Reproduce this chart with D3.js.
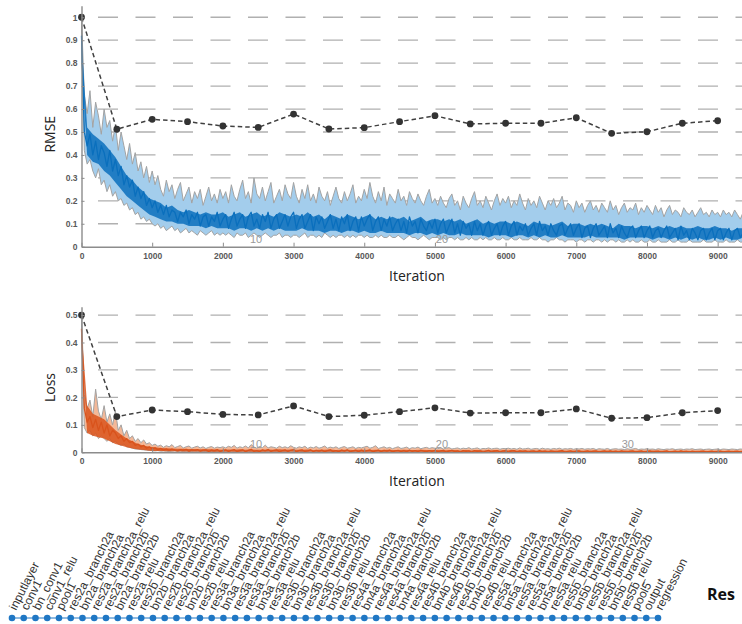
<!DOCTYPE html>
<html>
<head>
<meta charset="utf-8">
<script src="https://cdn.jsdelivr.net/npm/d3@7/dist/d3.min.js"></script>
<style>
body { margin:0; background:#fff; }
</style>
</head>
<body>
<div id="wrapper"></div>
<script>
// training traces.
// raw band (min / max of the trace) and the smoothed line: one value every 40 iterations
// dark core of the smoothed line: one value every 80 iterations
var rawStep = 40, coreStep = 80;

var rmseHi = [
	1.00, 0.66, 0.58, 0.68, 0.52, 0.63, 0.57, 0.49, 0.60, 0.52, 0.55, 0.46, 0.53, 0.42, 0.50, 0.44, 0.38, 0.45, 0.36, 0.41, 0.33, 0.37, 0.30, 0.35, 0.28, 0.33,
	0.27, 0.31, 0.25, 0.22, 0.29, 0.24, 0.27, 0.21, 0.25, 0.28, 0.20, 0.23, 0.26, 0.19, 0.24, 0.21, 0.25, 0.18, 0.22, 0.26, 0.20, 0.23, 0.19, 0.25, 0.21,
	0.24, 0.19, 0.27, 0.22, 0.20, 0.25, 0.29, 0.21, 0.24, 0.19, 0.30, 0.23, 0.21, 0.26, 0.20, 0.24, 0.28, 0.19, 0.22, 0.25, 0.20, 0.27, 0.23, 0.21, 0.28,
	0.22, 0.19, 0.25, 0.21, 0.27, 0.20, 0.23, 0.19, 0.26, 0.22, 0.20, 0.24, 0.18, 0.22, 0.26, 0.21, 0.19, 0.24, 0.20, 0.23, 0.27, 0.19, 0.22, 0.20, 0.25,
	0.21, 0.28, 0.22, 0.19, 0.24, 0.20, 0.26, 0.18, 0.23, 0.21, 0.19, 0.25, 0.20, 0.22, 0.18, 0.24, 0.21, 0.19, 0.23, 0.20, 0.18, 0.22, 0.25, 0.19, 0.21,
	0.18, 0.22, 0.19, 0.17, 0.21, 0.23, 0.18, 0.20, 0.16, 0.22, 0.19, 0.17, 0.21, 0.24, 0.18, 0.20, 0.17, 0.22, 0.19, 0.16, 0.20, 0.23, 0.18, 0.21, 0.19,
	0.22, 0.17, 0.20, 0.18, 0.23, 0.19, 0.16, 0.21, 0.18, 0.20, 0.17, 0.22, 0.19, 0.16, 0.20, 0.18, 0.21, 0.17, 0.19, 0.22, 0.16, 0.19, 0.18, 0.15, 0.20,
	0.17, 0.19, 0.15, 0.18, 0.20, 0.16, 0.18, 0.15, 0.19, 0.17, 0.15, 0.20, 0.16, 0.18, 0.14, 0.17, 0.19, 0.15, 0.17, 0.16, 0.19, 0.14, 0.17, 0.15, 0.18,
	0.16, 0.14, 0.18, 0.15, 0.17, 0.13, 0.16, 0.18, 0.14, 0.16, 0.15, 0.13, 0.17, 0.15, 0.14, 0.16, 0.13, 0.15, 0.17, 0.14, 0.15, 0.13, 0.16, 0.14, 0.15,
	0.13, 0.16, 0.14, 0.15, 0.13, 0.16, 0.14, 0.12, 0.15, 0.14
];
var rmseLo = [
	0.95, 0.42, 0.36, 0.38, 0.33, 0.30, 0.34, 0.27, 0.29, 0.24, 0.27, 0.22, 0.24, 0.20, 0.21, 0.18, 0.19, 0.16, 0.17, 0.14, 0.15, 0.12, 0.13, 0.11, 0.12, 0.10,
	0.09, 0.10, 0.08, 0.09, 0.07, 0.08, 0.09, 0.07, 0.08, 0.06, 0.07, 0.08, 0.06, 0.07, 0.06, 0.05, 0.07, 0.06, 0.05, 0.06, 0.07, 0.05, 0.06, 0.05, 0.06,
	0.05, 0.06, 0.05, 0.04, 0.06, 0.05, 0.05, 0.06, 0.04, 0.05, 0.06, 0.05, 0.04, 0.05, 0.06, 0.05, 0.04, 0.05, 0.05, 0.06, 0.04, 0.05, 0.05, 0.04, 0.05,
	0.05, 0.04, 0.05, 0.06, 0.04, 0.05, 0.05, 0.04, 0.05, 0.04, 0.06, 0.05, 0.04, 0.05, 0.04, 0.05, 0.05, 0.04, 0.05, 0.04, 0.05, 0.04, 0.05, 0.05, 0.04,
	0.05, 0.04, 0.04, 0.05, 0.04, 0.05, 0.04, 0.04, 0.05, 0.04, 0.04, 0.05, 0.04, 0.03, 0.04, 0.05, 0.04, 0.04, 0.03, 0.04, 0.05, 0.04, 0.03, 0.04, 0.04,
	0.04, 0.03, 0.04, 0.03, 0.04, 0.04, 0.03, 0.04, 0.03, 0.03, 0.04, 0.03, 0.04, 0.03, 0.03, 0.04, 0.03, 0.04, 0.03, 0.03, 0.04, 0.03, 0.03, 0.04, 0.03,
	0.03, 0.04, 0.03, 0.03, 0.04, 0.03, 0.03, 0.03, 0.04, 0.03, 0.03, 0.04, 0.03, 0.03, 0.02, 0.03, 0.03, 0.04, 0.03, 0.03, 0.02, 0.03, 0.03, 0.03, 0.02,
	0.03, 0.03, 0.02, 0.03, 0.03, 0.02, 0.03, 0.03, 0.02, 0.03, 0.02, 0.03, 0.03, 0.02, 0.03, 0.02, 0.02, 0.03, 0.02, 0.03, 0.02, 0.02, 0.03, 0.02, 0.02,
	0.03, 0.02, 0.02, 0.03, 0.02, 0.02, 0.02, 0.03, 0.02, 0.02, 0.03, 0.02, 0.02, 0.02, 0.03, 0.02, 0.02, 0.02, 0.02, 0.03, 0.02, 0.02, 0.02, 0.03, 0.02,
	0.02, 0.02, 0.03, 0.02, 0.02, 0.02, 0.03, 0.02, 0.02, 0.02
];
var rmseSmooth = [
	0.92, 0.50, 0.44, 0.49, 0.40, 0.46, 0.38, 0.44, 0.41, 0.35, 0.42, 0.33, 0.38, 0.31, 0.35, 0.27, 0.31, 0.26, 0.29, 0.22, 0.26, 0.21, 0.24, 0.18, 0.21, 0.17,
	0.20, 0.15, 0.18, 0.14, 0.18, 0.13, 0.16, 0.15, 0.11, 0.15, 0.13, 0.16, 0.10, 0.14, 0.12, 0.15, 0.09, 0.13, 0.14, 0.09, 0.13, 0.11, 0.15, 0.09, 0.12,
	0.14, 0.08, 0.12, 0.15, 0.09, 0.12, 0.14, 0.08, 0.13, 0.15, 0.09, 0.12, 0.08, 0.14, 0.11, 0.15, 0.08, 0.12, 0.14, 0.08, 0.11, 0.14, 0.09, 0.13, 0.15,
	0.08, 0.12, 0.14, 0.08, 0.11, 0.14, 0.07, 0.13, 0.10, 0.13, 0.08, 0.11, 0.14, 0.08, 0.12, 0.07, 0.13, 0.10, 0.14, 0.07, 0.11, 0.13, 0.07, 0.13, 0.09,
	0.12, 0.14, 0.07, 0.11, 0.13, 0.07, 0.12, 0.09, 0.13, 0.07, 0.10, 0.12, 0.07, 0.11, 0.06, 0.13, 0.09, 0.11, 0.06, 0.12, 0.09, 0.07, 0.11, 0.08, 0.12,
	0.06, 0.10, 0.12, 0.06, 0.09, 0.12, 0.06, 0.10, 0.05, 0.11, 0.08, 0.10, 0.05, 0.11, 0.07, 0.10, 0.05, 0.09, 0.11, 0.05, 0.08, 0.10, 0.05, 0.09, 0.11,
	0.05, 0.09, 0.11, 0.05, 0.09, 0.07, 0.10, 0.05, 0.08, 0.10, 0.05, 0.11, 0.07, 0.09, 0.05, 0.10, 0.07, 0.05, 0.09, 0.10, 0.05, 0.08, 0.10, 0.05, 0.08,
	0.10, 0.04, 0.08, 0.09, 0.04, 0.08, 0.10, 0.05, 0.07, 0.09, 0.04, 0.10, 0.06, 0.08, 0.04, 0.09, 0.06, 0.04, 0.08, 0.09, 0.04, 0.07, 0.09, 0.04, 0.07,
	0.09, 0.04, 0.07, 0.08, 0.04, 0.07, 0.09, 0.04, 0.06, 0.08, 0.03, 0.09, 0.05, 0.07, 0.03, 0.08, 0.06, 0.03, 0.07, 0.08, 0.03, 0.06, 0.08, 0.03, 0.07,
	0.08, 0.03, 0.06, 0.08, 0.03, 0.07, 0.08, 0.04, 0.06, 0.07
];
var rmseCoreHi = [
	0.90, 0.52, 0.49, 0.47, 0.45, 0.42, 0.39, 0.35, 0.31, 0.29, 0.26, 0.24, 0.21,
	0.20, 0.19, 0.17, 0.18, 0.16, 0.15, 0.16, 0.15, 0.14, 0.15, 0.14, 0.14,
	0.15, 0.13, 0.14, 0.15, 0.13, 0.14, 0.15, 0.13, 0.14, 0.13, 0.15, 0.14, 0.13,
	0.14, 0.13, 0.15, 0.13, 0.14, 0.12, 0.14, 0.13, 0.12, 0.14, 0.13, 0.12,
	0.13, 0.14, 0.12, 0.13, 0.12, 0.13, 0.12, 0.13, 0.11, 0.12, 0.13, 0.11, 0.12,
	0.12, 0.11, 0.12, 0.11, 0.12, 0.10, 0.11, 0.12, 0.10, 0.11, 0.10, 0.11,
	0.11, 0.10, 0.11, 0.10, 0.09, 0.11, 0.10, 0.10, 0.09, 0.10, 0.11, 0.09, 0.10,
	0.10, 0.09, 0.10, 0.09, 0.10, 0.09, 0.08, 0.10, 0.09, 0.09, 0.08, 0.09,
	0.09, 0.08, 0.09, 0.08, 0.09, 0.08, 0.09, 0.08, 0.08, 0.09, 0.08, 0.08, 0.09,
	0.08, 0.08, 0.07, 0.08, 0.08
];
var rmseCoreLo = [
	0.80, 0.40, 0.37, 0.36, 0.33, 0.31, 0.28, 0.25, 0.22, 0.20, 0.18, 0.16, 0.14,
	0.13, 0.12, 0.11, 0.11, 0.10, 0.10, 0.09, 0.09, 0.09, 0.08, 0.09, 0.08,
	0.08, 0.08, 0.07, 0.08, 0.08, 0.07, 0.08, 0.07, 0.08, 0.07, 0.08, 0.07, 0.07,
	0.07, 0.08, 0.07, 0.07, 0.07, 0.06, 0.07, 0.07, 0.06, 0.07, 0.07, 0.06,
	0.07, 0.06, 0.06, 0.07, 0.06, 0.06, 0.06, 0.06, 0.05, 0.06, 0.06, 0.05, 0.06,
	0.05, 0.06, 0.05, 0.05, 0.06, 0.05, 0.05, 0.05, 0.05, 0.04, 0.05, 0.05,
	0.05, 0.04, 0.05, 0.05, 0.04, 0.05, 0.04, 0.05, 0.04, 0.04, 0.05, 0.04, 0.04,
	0.04, 0.04, 0.05, 0.04, 0.04, 0.04, 0.04, 0.04, 0.03, 0.04, 0.04, 0.04,
	0.04, 0.03, 0.04, 0.04, 0.03, 0.04, 0.03, 0.04, 0.03, 0.04, 0.03, 0.03, 0.04,
	0.03, 0.04, 0.03, 0.03, 0.04
];

var lossHi = [
	0.50, 0.21, 0.16, 0.19, 0.13, 0.23, 0.15, 0.12, 0.17, 0.11, 0.14, 0.10, 0.15, 0.08, 0.10, 0.06, 0.08, 0.05, 0.06, 0.04, 0.05, 0.035, 0.045, 0.03, 0.035, 0.025,
	0.03, 0.022, 0.026, 0.018, 0.024, 0.02, 0.028, 0.017, 0.021, 0.025, 0.016, 0.02, 0.023, 0.015, 0.019, 0.022, 0.016, 0.02, 0.014, 0.018, 0.021, 0.015, 0.019, 0.017, 0.02,
	0.016, 0.022, 0.018, 0.025, 0.015, 0.02, 0.017, 0.023, 0.016, 0.028, 0.019, 0.015, 0.021, 0.017, 0.026, 0.016, 0.02, 0.018, 0.015, 0.022, 0.017, 0.02, 0.016, 0.024, 0.018,
	0.015, 0.02, 0.017, 0.022, 0.014, 0.019, 0.016, 0.021, 0.015, 0.018, 0.023, 0.015, 0.019, 0.016, 0.02, 0.014, 0.018, 0.021, 0.015, 0.017, 0.02, 0.014, 0.018, 0.016, 0.019,
	0.022, 0.015, 0.018, 0.024, 0.014, 0.017, 0.02, 0.015, 0.018, 0.013, 0.017, 0.02, 0.014, 0.016, 0.019, 0.013, 0.017, 0.015, 0.019, 0.013, 0.016, 0.018, 0.014, 0.017, 0.015,
	0.013, 0.016, 0.012, 0.015, 0.017, 0.012, 0.014, 0.016, 0.012, 0.015, 0.013, 0.017, 0.012, 0.014, 0.016, 0.011, 0.014, 0.013, 0.016, 0.012, 0.014, 0.015, 0.011, 0.014, 0.013,
	0.015, 0.012, 0.014, 0.011, 0.016, 0.012, 0.013, 0.015, 0.011, 0.013, 0.014, 0.011, 0.015, 0.012, 0.013, 0.011, 0.014, 0.012, 0.015, 0.011, 0.013, 0.012, 0.014, 0.011, 0.013,
	0.012, 0.014, 0.011, 0.013, 0.012, 0.014, 0.01, 0.013, 0.012, 0.011, 0.014, 0.01, 0.012, 0.013, 0.011, 0.012, 0.01, 0.013, 0.011, 0.012, 0.014, 0.01, 0.012, 0.011, 0.013,
	0.011, 0.012, 0.01, 0.013, 0.011, 0.01, 0.012, 0.011, 0.013, 0.01, 0.011, 0.012, 0.01, 0.012, 0.011, 0.013, 0.01, 0.011, 0.012, 0.01, 0.011, 0.012, 0.01, 0.011, 0.012,
	0.01, 0.012, 0.011, 0.01, 0.012, 0.011, 0.01, 0.012, 0.011, 0.01
];
var lossLo = [
	0.45, 0.09, 0.07, 0.08, 0.06, 0.07, 0.05, 0.06, 0.05, 0.04, 0.05, 0.035, 0.04, 0.03, 0.025, 0.03, 0.02, 0.018, 0.015, 0.012, 0.012, 0.01, 0.009, 0.008, 0.007, 0.006,
	0.005, 0.006, 0.004, 0.005, 0.004, 0.003, 0.004, 0.005, 0.003, 0.004, 0.003, 0.004, 0.003, 0.003, 0.004, 0.003, 0.002, 0.003, 0.003, 0.002, 0.003, 0.003, 0.002, 0.003, 0.002,
	0.002, 0.003, 0.002, 0.002, 0.003, 0.002, 0.002, 0.002, 0.003, 0.002, 0.002, 0.003, 0.002, 0.002, 0.002, 0.003, 0.002, 0.002, 0.002, 0.002, 0.003, 0.002, 0.002, 0.002, 0.002,
	0.002, 0.002, 0.003, 0.002, 0.002, 0.002, 0.002, 0.003, 0.002, 0.002, 0.002, 0.002, 0.002, 0.003, 0.002, 0.002, 0.002, 0.002, 0.002, 0.002, 0.003, 0.002, 0.002, 0.002, 0.002,
	0.002, 0.002, 0.001, 0.002, 0.002, 0.002, 0.001, 0.002, 0.002, 0.002, 0.002, 0.001, 0.002, 0.002, 0.002, 0.001, 0.002, 0.002, 0.002, 0.001, 0.002, 0.002, 0.001, 0.002, 0.002,
	0.001, 0.002, 0.001, 0.002, 0.001, 0.001, 0.002, 0.001, 0.002, 0.001, 0.001, 0.002, 0.001, 0.001, 0.002, 0.001, 0.001, 0.002, 0.001, 0.001, 0.002, 0.001, 0.001, 0.001, 0.002,
	0.001, 0.001, 0.002, 0.001, 0.001, 0.001, 0.001, 0.002, 0.001, 0.001, 0.001, 0.001, 0.001, 0.002, 0.001, 0.001, 0.001, 0.001, 0.001, 0.001, 0.002, 0.001, 0.001, 0.001, 0.001,
	0.001, 0.001, 0.001, 0.001, 0.001, 0.001, 0.001, 0.001, 0.001, 0.001, 0.001, 0.001, 0.001, 0.001, 0.001, 0.001, 0.001, 0.001, 0.001, 0.001, 0.001, 0.001, 0.001, 0.001, 0.001,
	0.001, 0.001, 0.001, 0.001, 0.001, 0.001, 0.001, 0.001, 0.001, 0.001, 0.001, 0.001, 0.001, 0.001, 0.001, 0.001, 0.001, 0.001, 0.001, 0.001, 0.001, 0.001, 0.001, 0.001, 0.001,
	0.001, 0.001, 0.001, 0.001, 0.001, 0.001, 0.001, 0.001, 0.001, 0.001
];
var lossSmooth = [
	0.45, 0.16, 0.11, 0.13, 0.09, 0.12, 0.08, 0.11, 0.07, 0.10, 0.06, 0.08, 0.07, 0.05, 0.06, 0.04, 0.05, 0.035, 0.04, 0.025, 0.03, 0.02, 0.025, 0.015, 0.02, 0.012,
	0.016, 0.009, 0.014, 0.008, 0.012, 0.007, 0.012, 0.008, 0.005, 0.01, 0.007, 0.011, 0.004, 0.009, 0.006, 0.01, 0.004, 0.008, 0.009, 0.003, 0.008, 0.005, 0.01, 0.003, 0.007,
	0.009, 0.003, 0.007, 0.01, 0.003, 0.006, 0.009, 0.002, 0.007, 0.011, 0.003, 0.006, 0.002, 0.009, 0.005, 0.01, 0.003, 0.007, 0.009, 0.002, 0.006, 0.009, 0.003, 0.007, 0.01,
	0.002, 0.007, 0.009, 0.003, 0.005, 0.009, 0.002, 0.007, 0.004, 0.008, 0.002, 0.006, 0.009, 0.003, 0.006, 0.002, 0.008, 0.004, 0.009, 0.002, 0.005, 0.008, 0.002, 0.008, 0.003,
	0.006, 0.009, 0.002, 0.005, 0.008, 0.002, 0.007, 0.004, 0.008, 0.002, 0.005, 0.007, 0.002, 0.006, 0.002, 0.008, 0.003, 0.006, 0.002, 0.007, 0.004, 0.002, 0.006, 0.003, 0.007,
	0.002, 0.005, 0.007, 0.001, 0.004, 0.007, 0.002, 0.005, 0.001, 0.006, 0.003, 0.005, 0.001, 0.006, 0.003, 0.005, 0.001, 0.004, 0.007, 0.001, 0.004, 0.006, 0.001, 0.005, 0.006,
	0.001, 0.004, 0.006, 0.001, 0.005, 0.003, 0.005, 0.001, 0.004, 0.005, 0.001, 0.006, 0.002, 0.004, 0.001, 0.005, 0.003, 0.001, 0.004, 0.006, 0.001, 0.003, 0.005, 0.001, 0.004,
	0.005, 0.001, 0.003, 0.005, 0.001, 0.004, 0.005, 0.001, 0.003, 0.005, 0.001, 0.005, 0.002, 0.004, 0.001, 0.005, 0.002, 0.001, 0.004, 0.005, 0.001, 0.003, 0.005, 0.001, 0.003,
	0.005, 0.001, 0.003, 0.004, 0.001, 0.003, 0.005, 0.001, 0.002, 0.004, 0.001, 0.005, 0.002, 0.003, 0.001, 0.004, 0.002, 0.001, 0.003, 0.004, 0.001, 0.003, 0.004, 0.001, 0.003,
	0.004, 0.001, 0.003, 0.004, 0.001, 0.003, 0.004, 0.001, 0.002, 0.004
];
var lossCoreHi = [
	0.45, 0.17, 0.14, 0.13, 0.12, 0.10, 0.08, 0.065, 0.05, 0.04, 0.03, 0.025, 0.02,
	0.018, 0.016, 0.015, 0.014, 0.013, 0.013, 0.012, 0.012, 0.011, 0.011, 0.011, 0.01,
	0.009, 0.01, 0.009, 0.011, 0.009, 0.01, 0.009, 0.009, 0.01, 0.009, 0.011, 0.009, 0.01,
	0.009, 0.009, 0.01, 0.008, 0.009, 0.009, 0.01, 0.008, 0.009, 0.009, 0.008, 0.009,
	0.009, 0.008, 0.009, 0.008, 0.009, 0.008, 0.008, 0.009, 0.008, 0.008, 0.009, 0.008, 0.008,
	0.008, 0.007, 0.008, 0.008, 0.007, 0.008, 0.007, 0.008, 0.007, 0.007, 0.008, 0.007,
	0.007, 0.008, 0.007, 0.007, 0.007, 0.006, 0.007, 0.007, 0.006, 0.007, 0.007, 0.006, 0.007,
	0.007, 0.006, 0.007, 0.006, 0.006, 0.007, 0.006, 0.006, 0.007, 0.006, 0.006, 0.006,
	0.006, 0.007, 0.006, 0.006, 0.005, 0.006, 0.006, 0.006, 0.005, 0.006, 0.006, 0.005, 0.006,
	0.006, 0.005, 0.006, 0.005, 0.006
];
var lossCoreLo = [
	0.40, 0.07, 0.06, 0.055, 0.05, 0.04, 0.03, 0.025, 0.018, 0.014, 0.01, 0.008, 0.006,
	0.005, 0.005, 0.004, 0.004, 0.004, 0.003, 0.003, 0.003, 0.003, 0.003, 0.002, 0.002,
	0.002, 0.003, 0.002, 0.002, 0.003, 0.002, 0.002, 0.002, 0.003, 0.002, 0.002, 0.002, 0.003,
	0.002, 0.002, 0.002, 0.003, 0.002, 0.002, 0.002, 0.002, 0.002, 0.003, 0.002, 0.002,
	0.002, 0.002, 0.002, 0.002, 0.002, 0.002, 0.002, 0.002, 0.002, 0.002, 0.002, 0.002, 0.002,
	0.002, 0.001, 0.002, 0.002, 0.001, 0.002, 0.002, 0.001, 0.002, 0.002, 0.001, 0.002,
	0.001, 0.002, 0.001, 0.001, 0.002, 0.001, 0.001, 0.002, 0.001, 0.001, 0.001, 0.002, 0.001,
	0.001, 0.001, 0.001, 0.001, 0.001, 0.001, 0.001, 0.001, 0.001, 0.001, 0.001, 0.001,
	0.001, 0.001, 0.001, 0.001, 0.001, 0.001, 0.001, 0.001, 0.001, 0.001, 0.001, 0.001, 0.001,
	0.001, 0.001, 0.001, 0.001, 0.001
];

// validation points
var valIter = [0, 500, 1000, 1500, 2000, 2500, 3000, 3500, 4000, 4500, 5000, 5500, 6000, 6500, 7000, 7500, 8000, 8500, 9000];
var rmseVal = [1.0, 0.512, 0.555, 0.545, 0.526, 0.52, 0.578, 0.513, 0.519, 0.545, 0.571, 0.535, 0.538, 0.538, 0.562, 0.494, 0.501, 0.538, 0.549];
var lossVal = [0.5, 0.13, 0.154, 0.148, 0.138, 0.136, 0.169, 0.13, 0.135, 0.148, 0.162, 0.143, 0.144, 0.144, 0.158, 0.124, 0.126, 0.144, 0.152];

// epoch markers
var epochLabels = ['10', '20', '30'];
var epochIter = [2470, 5100, 7730];

var xTicks = [0, 1000, 2000, 3000, 4000, 5000, 6000, 7000, 8000, 9000];
var rmseTicks = [0, 0.1, 0.2, 0.3, 0.4, 0.5, 0.6, 0.7, 0.8, 0.9, 1];
var lossTicks = [0, 0.1, 0.2, 0.3, 0.4, 0.5];

var layers = ['inputlayer', 'conv1', 'bn_conv1', 'conv1_relu', 'pool1',
	'res2a_branch2a', 'bn2a_branch2a', 'res2a_branch2a_relu', 'res2a_branch2b', 'bn2a_branch2b', 'res2a_relu',
	'res2b_branch2a', 'bn2b_branch2a', 'res2b_branch2a_relu', 'res2b_branch2b', 'bn2b_branch2b', 'res2b_relu',
	'res3a_branch2a', 'bn3a_branch2a', 'res3a_branch2a_relu', 'res3a_branch2b', 'bn3a_branch2b', 'res3a_relu',
	'res3b_branch2a', 'bn3b_branch2a', 'res3b_branch2a_relu', 'res3b_branch2b', 'bn3b_branch2b', 'res3b_relu',
	'res4a_branch2a', 'bn4a_branch2a', 'res4a_branch2a_relu', 'res4a_branch2b', 'bn4a_branch2b', 'res4a_relu',
	'res4b_branch2a', 'bn4b_branch2a', 'res4b_branch2a_relu', 'res4b_branch2b', 'bn4b_branch2b', 'res4b_relu',
	'res5a_branch2a', 'bn5a_branch2a', 'res5a_branch2a_relu', 'res5a_branch2b', 'bn5a_branch2b', 'res5a_relu',
	'res5b_branch2a', 'bn5b_branch2a', 'res5b_branch2a_relu', 'res5b_branch2b', 'bn5b_branch2b', 'res5b_relu',
	'pool5', 'output', 'regression'];

var svg = d3.select('#wrapper')
	.append('svg')
	.attr('width', 742)
	.attr('height', 624)
	.style('font-family', 'Liberation Sans, Arial, sans-serif');

var x = d3.scaleLinear().domain([0, 9500]).range([81.5, 753]);

function panel(p) {
	var y = d3.scaleLinear().domain([0, p.top]).range([p.y0, p.y1]);
	var g = svg.append('g');

	// dashed grid
	g.selectAll('line.grid')
		.data(p.ticks.filter(function(d){ return d > 0; }))
		.enter()
		.append('line')
		.attr('class', 'grid')
		.attr('x1', x(0)).attr('x2', 742)
		.attr('y1', function(d){ return y(d); })
		.attr('y2', function(d){ return y(d); })
		.style('stroke', '#b0b0b0')
		.style('stroke-width', 1.3)
		.style('stroke-dasharray', '20,17.5')
		.style('stroke-dashoffset', 21);

	// raw band
	var band = d3.area()
		.x(function(d, i){ return x(i * rawStep); })
		.y0(function(d, i){ return y(p.lo[i]); })
		.y1(function(d){ return y(d); });
	g.append('path').datum(p.hi)
		.attr('d', band)
		.style('fill', p.light)
		.style('stroke', '#a3a3a3')
		.style('stroke-width', 1)
		.style('stroke-linejoin', 'round');

	// smoothed core
	var core = d3.area()
		.x(function(d, i){ return x(i * coreStep); })
		.y0(function(d, i){ return y(p.coreLo[i]); })
		.y1(function(d){ return y(d); });
	g.append('path').datum(p.coreHi)
		.attr('d', core)
		.style('fill', p.dark)
		.style('fill-opacity', 0.85);
	var trace = d3.line()
		.x(function(d, i){ return x(i * rawStep); })
		.y(function(d){ return y(d); });
	g.append('path').datum(p.smooth)
		.attr('d', trace)
		.style('fill', 'none')
		.style('stroke', p.dark)
		.style('stroke-width', 1.3)
		.style('stroke-linejoin', 'round');

	// epoch numbers
	g.selectAll('text.epoch')
		.data(p.epochs)
		.enter()
		.append('text')
		.attr('x', function(d){ return x(epochIter[epochLabels.indexOf(d)]); })
		.attr('y', y(0) - 4)
		.attr('text-anchor', 'middle')
		.style('font-size', '11px')
		.style('fill', '#9a9a9a')
		.text(function(d){ return d; });

	// validation
	var valLine = d3.line()
		.x(function(d, i){ return x(valIter[i]); })
		.y(function(d){ return y(d); });
	g.append('path').datum(p.val)
		.attr('d', valLine)
		.style('fill', 'none')
		.style('stroke', '#404040')
		.style('stroke-width', 1.5)
		.style('stroke-dasharray', '4.5,3');
	g.selectAll('circle.val')
		.data(p.val)
		.enter()
		.append('circle')
		.attr('cx', function(d, i){ return x(valIter[i]); })
		.attr('cy', function(d){ return y(d); })
		.attr('r', 3.4)
		.style('fill', '#333');

	// axes
	var xa = g.append('g')
		.attr('transform', 'translate(0,' + p.y0 + ')')
		.call(d3.axisBottom(x).tickValues(xTicks).tickSizeInner(-4).tickSizeOuter(0).tickPadding(6).tickFormat(d3.format('d')));
	var ya = g.append('g')
		.attr('transform', 'translate(' + x(0) + ',0)')
		.call(d3.axisLeft(y).tickValues(p.ticks).tickSizeInner(-3).tickSizeOuter(0).tickPadding(4).tickFormat(function(d){ return String(d); }));
	[xa, ya].forEach(function(a){
		a.select('.domain').style('stroke', '#8c8c8c').style('stroke-width', 1.4);
		a.selectAll('.tick line').style('stroke', '#8c8c8c');
		a.selectAll('text')
			.style('font-family', 'Liberation Sans, Arial, sans-serif')
			.style('font-size', '8.5px')
			.style('font-weight', 'bold')
			.style('fill', '#595959');
	});

	g.append('text')
		.attr('x', 417).attr('y', p.y0 + 34)
		.attr('text-anchor', 'middle')
		.style('font-family', 'Open Sans, sans-serif')
		.style('font-size', '14px')
		.style('fill', '#222')
		.text('Iteration');
	g.append('text')
		.attr('transform', 'translate(55,' + ((p.y0 + p.y1) / 2 + 8) + ') rotate(-90)')
		.attr('text-anchor', 'middle')
		.style('font-family', 'Open Sans, sans-serif')
		.style('font-size', '14px')
		.style('fill', '#222')
		.text(p.label);
}

panel({ top: 1.05, y0: 246.7, y1: 5.8, ticks: rmseTicks, label: 'RMSE',
	hi: rmseHi, lo: rmseLo, smooth: rmseSmooth, coreHi: rmseCoreHi, coreLo: rmseCoreLo, val: rmseVal,
	light: '#a3cdec', dark: '#0a6fbd', epochs: ['10', '20'] });
panel({ top: 0.53, y0: 452.3, y1: 306.8, ticks: lossTicks, label: 'Loss',
	hi: lossHi, lo: lossLo, smooth: lossSmooth, coreHi: lossCoreHi, coreLo: lossCoreLo, val: lossVal,
	light: '#f3b898', dark: '#d9531c', epochs: ['10', '20', '30'] });

// layer graph
var lx = d3.scalePoint().domain(layers).range([12, 658]);
svg.append('line')
	.attr('x1', lx(layers[0])).attr('x2', lx(layers[layers.length - 1]))
	.attr('y1', 618).attr('y2', 618)
	.style('stroke', '#1f77c4')
	.style('stroke-width', 1);
svg.selectAll('circle.layer')
	.data(layers)
	.enter()
	.append('circle')
	.attr('cx', function(d){ return lx(d); })
	.attr('cy', 618)
	.attr('r', 3.3)
	.style('fill', '#1f77c4');
svg.selectAll('text.layer')
	.data(layers)
	.enter()
	.append('text')
	.attr('transform', function(d){ return 'translate(' + (lx(d) + 4) + ',611) rotate(-63)'; })
	.style('font-size', '12px')
	.style('fill', '#333')
	.text(function(d){ return d; });

svg.append('text')
	.attr('x', 707).attr('y', 600)
	.style('font-family', 'Open Sans, sans-serif')
	.style('font-size', '16px')
	.style('font-weight', 'bold')
	.style('fill', '#111')
	.text('Res');
</script>
</body>
</html>
